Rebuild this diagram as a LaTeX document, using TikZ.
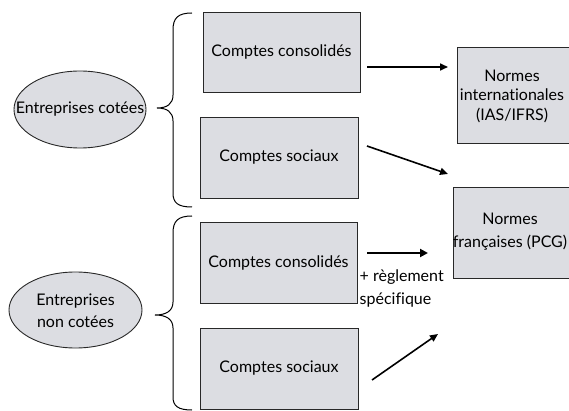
\documentclass[tikz,border=0pt]{standalone}
\usepackage{fontspec}
\setmainfont{Lato}[Ligatures={NoCommon}]
\usetikzlibrary{arrows.meta,shapes.geometric}
\definecolor{boxfill}{RGB}{220,221,226}
\definecolor{boxline}{RGB}{40,40,40}
\begin{document}
\begin{tikzpicture}[x=1pt,y=-1pt,
  every node/.style={font=\fontsize{16}{22}\selectfont, text=black},
  acct/.style={draw=boxline, line width=0.9pt, fill=boxfill, inner sep=0pt},
  ent/.style={draw=boxline, line width=0.9pt, fill=boxfill, ellipse, inner sep=0pt},
  bracepath/.style={draw=black, line width=1pt},
  arr/.style={line width=1.6pt, -{Triangle[length=8pt,width=7pt]}},
  arrthick/.style={line width=2.6pt, -{Triangle[length=8pt,width=8pt]}}]
\useasboundingbox (0,0) rectangle (569,411);
% boxes
\node[acct, minimum width=157pt, minimum height=80pt] (cc1) at (281.5,52) {Comptes consolidés};
\node[acct, minimum width=158pt, minimum height=81pt] (cs1) at (279,157.5) {Comptes sociaux};
\node[acct, minimum width=157pt, minimum height=81pt] (cc2) at (278.5,262.5) {Comptes consolidés};
\node[acct, minimum width=158pt, minimum height=81pt] (cs2) at (279,368.5) {Comptes sociaux};
\node[acct, minimum width=118pt, minimum height=96pt] (nibox) at (516,95) {};
\node[align=center, font=\fontsize{16}{19.5}\selectfont] (ni) at (512,96) {Normes\\internationales\\(IAS/IFRS)};
\node[acct, minimum width=122pt, minimum height=91pt] (nfbox) at (514,232.5) {};
\node[align=center, font=\fontsize{16}{23}\selectfont] (nf) at (510,231.5) {Normes\\françaises (PCG)};
% ellipses
\node[ent, minimum width=132pt, minimum height=77pt] (e1box) at (80,109.5) {};
\node (e1) at (80,109.5) {Entreprises cotées};
\node[ent, minimum width=133pt, minimum height=76pt] (e2box) at (75.5,310) {};
\node[align=center] (e2) at (75.5,311) {Entreprises\\non cotées};
% braces
\draw[bracepath] (192,13) .. controls (178,13) and (173,18) .. (173,30) -- (173,95)
  .. controls (173,104) and (167,108) .. (157,108)
  .. controls (167,108) and (173,112) .. (173,121) -- (173,193)
  .. controls (173,203) and (178,207) .. (192,207);
\draw[bracepath] (192,216) .. controls (178,216) and (173,221) .. (173,233) -- (173,302)
  .. controls (173,311) and (166,315) .. (155,315)
  .. controls (166,315) and (173,319) .. (173,328) -- (173,397)
  .. controls (173,406) and (178,410) .. (192,410);
% arrows
\coordinate (a1s) at (367,67); \coordinate (a1e) at (448,67);
\coordinate (a2s) at (367,146); \coordinate (a2e) at (448,174);
\coordinate (a3s) at (367,253); \coordinate (a3e) at (428,253);
\coordinate (a4s) at (372,380); \coordinate (a4e) at (438,334);
\draw[arr] (a1s) -- (a1e);
\draw[arr] (a2s) -- (a2e);
\draw[arrthick] (a3s) -- (a3e);
\draw[arr] (a4s) -- (a4e);
\node[align=left, anchor=north west, inner sep=0pt, font=\fontsize{16}{23}\selectfont] (lab) at (359.5,270) {+ règlement\\spécifique};
\end{tikzpicture}
\end{document}
